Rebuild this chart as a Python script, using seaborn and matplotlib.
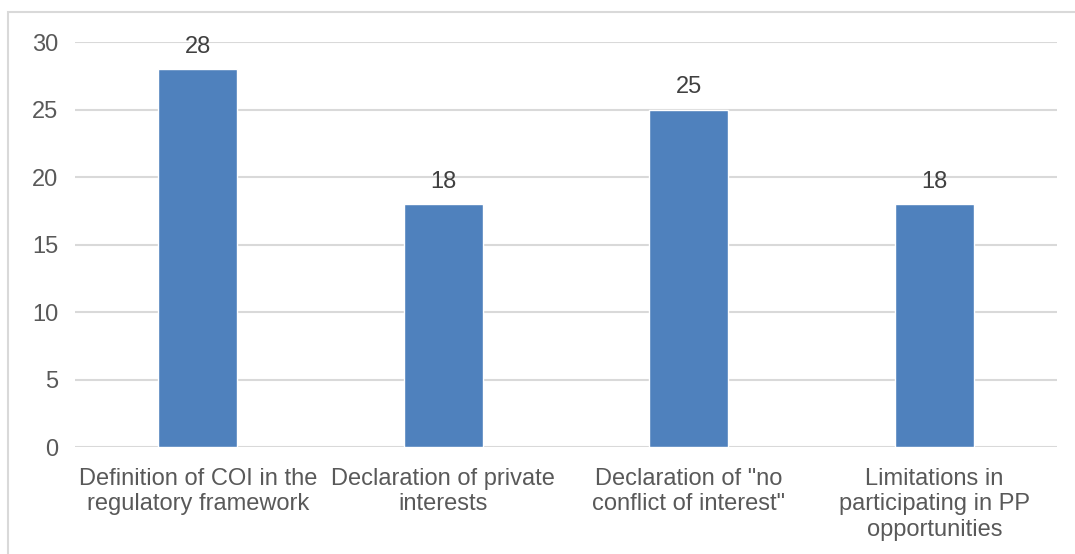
import matplotlib
matplotlib.use("Agg")
import matplotlib.pyplot as plt
import seaborn as sns
import pandas as pd
from matplotlib.patches import Rectangle

categories = [
    "Definition of COI in the\nregulatory framework",
    "Declaration of private\ninterests",
    "Declaration of \"no\nconflict of interest\"",
    "Limitations in\nparticipating in PP\nopportunities",
]
values = [28, 18, 25, 18]
yticks = [0, 5, 10, 15, 20, 25, 30]

sns.set_theme(style="white")
plt.rcParams['font.family'] = ['Liberation Sans', 'DejaVu Sans']

text_color = "#595959"
grid_color = "#D9D9D9"
bar_color = "#4F81BD"

df = pd.DataFrame({"cat": categories, "val": values})

fig = plt.figure(figsize=(10.75, 5.54), dpi=100)
ax = fig.add_axes([75/1075, 1-447/554, (1057-75)/1075, (447-42)/554])

sns.barplot(data=df, x="cat", y="val", color=bar_color, width=0.32,
            saturation=1, ax=ax, zorder=3)

ax.set_ylim(0, 30)
ax.set_xlim(-0.5, 3.5)
ax.set_yticks(yticks)
ax.set_yticklabels([str(t) for t in yticks])
ax.yaxis.grid(True, color=grid_color, linewidth=1.5, zorder=0)
ax.set_axisbelow(True)
for s in ax.spines.values():
    s.set_visible(False)
ax.set_xlabel("")
ax.set_ylabel("")
ax.tick_params(axis="both", length=0, labelsize=17, colors=text_color)
ax.tick_params(axis="y", pad=12)
ax.tick_params(axis="x", pad=15)
for lbl in ax.get_xticklabels():
    lbl.set_linespacing(1.21)

for c in ax.containers:
    ax.bar_label(c, labels=[str(v) for v in values], padding=8,
                 fontsize=17, color="#404040")

# outer chart border (left and top visible)
fig.patches.append(Rectangle((8/1075, -0.05), 1.2, 1 - 12/554 + 0.05,
                             transform=fig.transFigure, fill=False,
                             edgecolor=grid_color, linewidth=1.5))

fig.savefig("out.png", dpi=100)
